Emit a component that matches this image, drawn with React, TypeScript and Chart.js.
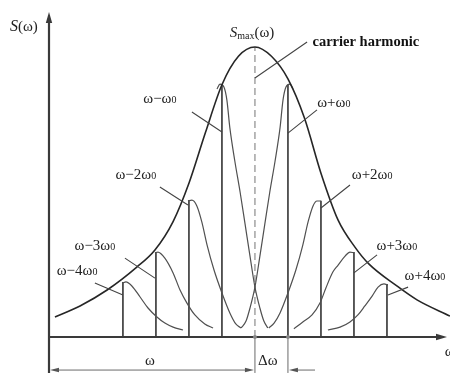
import { useEffect, useRef } from 'react';
import { Chart, registerables } from 'chart.js';
Chart.register(...registerables);

// Horizontal unit: offset from the carrier frequency, in multiples of ω0.
// Vertical unit: spectral amplitude as % of Smax.
const envelopeOffsets = [-6.06, -5.3, -4.48, -3.58, -3.03, -2.48, -2.0, -1.5, -1.0, -0.5, 0, 0.5, 1.0, 1.5, 2.0, 2.52, 3.03, 3.45, 4.3, 4.91, 5.91];
const envelopeValues = [6.9, 10.7, 16.2, 24.1, 30.0, 39.8, 53.0, 70.5, 87.0, 96.8, 100, 96.8, 89.0, 75.5, 56.5, 40.3, 31.0, 25.2, 17.6, 12.8, 7.2];

const carrierOffset = 0;
const carrierPeak = 100;

const harmonicOffsets = [-4, -3, -2, -1, 1, 2, 3, 4];
const harmonicPeaks = [19.0, 29.3, 47.2, 87.0, 87.0, 47.0, 29.3, 18.3];
const harmonicNames = ['ω−4ω', 'ω−3ω', 'ω−2ω', 'ω−ω', 'ω+ω', 'ω+2ω', 'ω+3ω', 'ω+4ω'];

const humpM4Offsets = [-4.0, -3.91, -3.73, -3.48, -3.24, -2.97, -2.73, -2.48, -2.18];
const humpM4Values = [18.6, 19.0, 17.6, 13.8, 10.0, 6.9, 4.8, 3.4, 2.4];
const humpM3Offsets = [-3.03, -2.94, -2.73, -2.48, -2.27, -2.06, -1.82, -1.52, -1.27];
const humpM3Values = [29.0, 29.3, 27.2, 22.1, 16.2, 11.7, 7.6, 4.5, 3.1];
const humpM2Offsets = [-2.03, -1.91, -1.76, -1.61, -1.45, -1.24, -1.0, -0.76, -0.58, -0.42];
const humpM2Values = [46.9, 47.2, 45.2, 39.7, 31.7, 23.1, 15.2, 8.3, 4.5, 3.1];
const humpM1Offsets = [-1.15, -1.06, -0.94, -0.85, -0.76, -0.61, -0.45, -0.3, -0.15, 0, 0.15, 0.27, 0.39];
const humpM1Values = [85.5, 87.2, 86.2, 81.7, 72.1, 60.7, 50.0, 39.0, 27.9, 17.2, 10.0, 5.5, 3.1];
const humpP1Offsets = [-0.42, -0.27, -0.15, 0, 0.15, 0.3, 0.45, 0.61, 0.76, 0.85, 0.94, 1.06, 1.15];
const humpP1Values = [3.1, 5.5, 10.0, 17.2, 27.9, 39.0, 50.0, 60.7, 72.1, 81.7, 86.2, 87.2, 85.5];
const humpP2Offsets = [0.42, 0.58, 0.76, 1.0, 1.24, 1.45, 1.61, 1.76, 1.88, 2.0];
const humpP2Values = [3.1, 4.8, 8.3, 15.2, 23.1, 31.7, 39.7, 45.2, 46.9, 46.9];
const humpP3Offsets = [1.18, 1.45, 1.73, 1.97, 2.15, 2.36, 2.52, 2.73, 2.88, 3.0];
const humpP3Values = [2.8, 5.2, 7.6, 11.7, 16.9, 22.4, 24.8, 27.9, 29.3, 29.0];
const humpP4Offsets = [2.21, 2.58, 2.88, 3.12, 3.33, 3.55, 3.73, 3.91, 4.03];
const humpP4Values = [2.4, 3.4, 5.2, 7.6, 10.7, 14.1, 17.2, 18.3, 17.9];

const SERIF = '"Liberation Serif", "DejaVu Serif", serif';

type Part = { t: string; f: string; dy?: number };

function drawRich(ctx: CanvasRenderingContext2D, parts: Part[], cx: number, baseY: number) {
  let w = 0;
  for (const p of parts) {
    ctx.font = p.f;
    w += ctx.measureText(p.t).width;
  }
  let x = cx - w / 2;
  ctx.textAlign = 'left';
  ctx.textBaseline = 'alphabetic';
  for (const p of parts) {
    ctx.font = p.f;
    ctx.fillText(p.t, x, baseY + (p.dy || 0));
    x += ctx.measureText(p.t).width;
  }
}

function arrowHead(ctx: CanvasRenderingContext2D, x: number, y: number, dx: number, dy: number, len: number, half: number) {
  const bx = x - dx * len;
  const by = y - dy * len;
  const nx = -dy;
  const ny = dx;
  ctx.beginPath();
  ctx.moveTo(x, y);
  ctx.lineTo(bx + nx * half, by + ny * half);
  ctx.lineTo(bx - nx * half, by - ny * half);
  ctx.closePath();
  ctx.fill();
}

const omegaParts = (name: string): Part[] => [
  { t: name, f: `15px ${SERIF}` },
  { t: '0', f: `10px ${SERIF}` },
];

// layout of annotations (data units: offset, amplitude)
const labelPlaces = [
  { u: -5.39, s: 21.4 },
  { u: -4.85, s: 30.0 },
  { u: -3.61, s: 54.5 },
  { u: -2.88, s: 80.7 },
  { u: 2.39, s: 79.3 },
  { u: 3.55, s: 54.5 },
  { u: 4.3, s: 30.0 },
  { u: 5.15, s: 19.6 },
];
const leaderPlaces = [
  [-4.85, 18.6, -4.0, 14.5],
  [-3.94, 27.2, -3.03, 20.3],
  [-2.88, 51.7, -2.03, 45.5],
  [-1.91, 77.6, -1.0, 70.7],
  [1.88, 78.3, 1.0, 70.3],
  [2.88, 52.4, 2.0, 44.5],
  [3.7, 28.3, 3.0, 22.1],
  [4.64, 17.2, 4.03, 14.5],
];

const overlay = {
  id: 'overlay',
  afterDatasetsDraw(chart: any) {
    const ctx: CanvasRenderingContext2D = chart.ctx;
    const xs = chart.scales.x;
    const ys = chart.scales.y;
    const X = (u: number) => xs.getPixelForValue(u);
    const Y = (s: number) => ys.getPixelForValue(s);
    const left = chart.chartArea.left;
    const top = chart.chartArea.top;
    const base = Y(0);
    ctx.save();

    // axes
    ctx.strokeStyle = '#3a3a3a';
    ctx.fillStyle = '#3a3a3a';
    ctx.lineWidth = 2.2;
    ctx.beginPath();
    ctx.moveTo(left, top + 6);
    ctx.lineTo(left, Y(-12.4));
    ctx.moveTo(left, base);
    ctx.lineTo(X(5.82) - 6, base);
    ctx.stroke();
    arrowHead(ctx, left, top, 0, -1, 11, 3.2);
    arrowHead(ctx, X(5.82), base, 1, 0, 11, 3.2);

    // dimension lines
    ctx.strokeStyle = '#6a6a6a';
    ctx.fillStyle = '#555';
    ctx.lineWidth = 1;
    ctx.beginPath();
    ctx.moveTo(X(0), base);
    ctx.lineTo(X(0), Y(-12.4));
    ctx.moveTo(X(1), base);
    ctx.lineTo(X(1), Y(-12.4));
    const dimY = Y(-11.4);
    ctx.moveTo(left + 6, dimY);
    ctx.lineTo(X(0) - 6, dimY);
    ctx.moveTo(X(1) + 6, dimY);
    ctx.lineTo(X(1.82), dimY);
    ctx.stroke();
    arrowHead(ctx, left + 1, dimY, -1, 0, 9, 2.3);
    arrowHead(ctx, X(0) - 1, dimY, 1, 0, 9, 2.3);
    arrowHead(ctx, X(1) + 1, dimY, -1, 0, 9, 2.3);

    // baseline dots
    ctx.fillStyle = '#888';
    for (const u of [0, 1]) {
      ctx.beginPath();
      ctx.arc(X(u), base, 2, 0, Math.PI * 2);
      ctx.fill();
    }

    // leader lines
    ctx.strokeStyle = '#444';
    ctx.lineWidth = 1.1;
    ctx.beginPath();
    for (const [u1, s1, u2, s2] of leaderPlaces) {
      ctx.moveTo(X(u1), Y(s1));
      ctx.lineTo(X(u2), Y(s2));
    }
    ctx.moveTo(X(1.58), Y(101.7));
    ctx.lineTo(X(0), Y(89.3));
    ctx.stroke();

    // texts
    ctx.fillStyle = '#222';
    harmonicNames.forEach((name, i) => {
      drawRich(ctx, omegaParts(name), X(labelPlaces[i].u), Y(labelPlaces[i].s));
    });
    drawRich(ctx, [
      { t: 'S', f: `italic 16px ${SERIF}` },
      { t: '(ω)', f: `15px ${SERIF}` },
    ], X(-7.0), Y(105.5));
    drawRich(ctx, [
      { t: 'S', f: `italic 15px ${SERIF}` },
      { t: 'max', f: `10px ${SERIF}`, dy: 2 },
      { t: '(ω)', f: `15px ${SERIF}` },
    ], X(-0.09), Y(103.5));
    ctx.fillStyle = '#111';
    drawRich(ctx, [{ t: 'carrier harmonic', f: `bold 14.5px ${SERIF}` }], X(3.36), Y(100.3));
    ctx.fillStyle = '#222';
    drawRich(ctx, [{ t: 'ω', f: `15px ${SERIF}` }], X(-3.18), Y(-9.6));
    drawRich(ctx, [{ t: 'Δω', f: `15px ${SERIF}` }], X(0.39), Y(-9.6));
    drawRich(ctx, [{ t: 'ω', f: `15px ${SERIF}` }], X(5.9), Y(-6.5));
    ctx.restore();
  },
};

export default function App() {
  const ref = useRef<HTMLCanvasElement>(null);
  useEffect(() => {
    const canvas = ref.current as HTMLCanvasElement;
    const pts = (a: number[], b: number[]) => a.map((x, i) => ({ x, y: b[i] }));
    const curve = (data: any[], color: string, width: number) => ({
      data,
      showLine: true,
      borderColor: color,
      borderWidth: width,
      pointRadius: 0,
      cubicInterpolationMode: 'monotone' as const,
      fill: false,
    });
    const humps: [number[], number[]][] = [
      [humpM4Offsets, humpM4Values],
      [humpM3Offsets, humpM3Values],
      [humpM2Offsets, humpM2Values],
      [humpM1Offsets, humpM1Values],
      [humpP1Offsets, humpP1Values],
      [humpP2Offsets, humpP2Values],
      [humpP3Offsets, humpP3Values],
      [humpP4Offsets, humpP4Values],
    ];
    const datasets: any[] = [
      curve(pts(envelopeOffsets, envelopeValues), '#262626', 1.6),
      ...humps.map(([o, v]) => curve(pts(o, v), '#505050', 1.2)),
      ...harmonicOffsets.map((u, i) => ({
        data: [{ x: u, y: 0 }, { x: u, y: harmonicPeaks[i] }],
        showLine: true,
        borderColor: '#333',
        borderWidth: 1.6,
        pointRadius: 0,
      })),
      {
        data: [{ x: carrierOffset, y: 0 }, { x: carrierOffset, y: carrierPeak }],
        showLine: true,
        borderColor: '#8c8c8c',
        borderWidth: 1.2,
        borderDash: [7, 4],
        pointRadius: 0,
      },
    ];
    const chart = new Chart(canvas, {
      type: 'scatter',
      data: { datasets },
      options: {
        responsive: false,
        animation: false,
        layout: { padding: { left: 49, right: 0, top: 12, bottom: 37 } },
        plugins: { legend: { display: false }, tooltip: { enabled: false } },
        scales: {
          x: { type: 'linear', display: false, min: -6.24, max: 5.91 },
          y: { type: 'linear', display: false, min: 0, max: 112.07 },
        },
      },
      plugins: [overlay],
    });
    return () => chart.destroy();
  }, []);
  return (
    <div style={{ position: 'absolute', left: 0, top: 0, width: 450, height: 374, background: '#fff' }}>
      <canvas ref={ref} width={450} height={374} style={{ display: 'block' }} />
    </div>
  );
}
